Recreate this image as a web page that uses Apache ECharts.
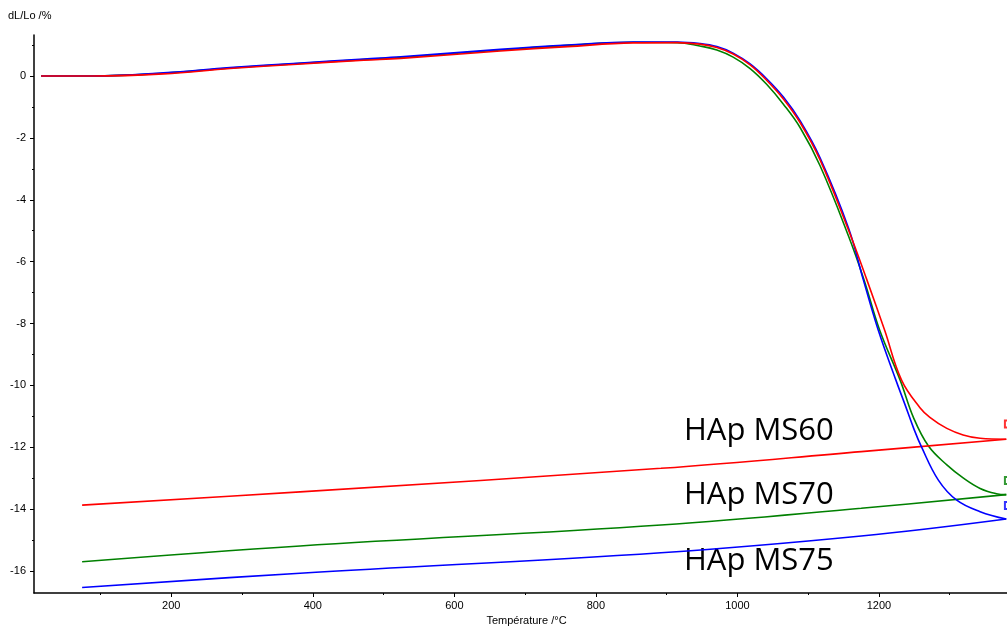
<!DOCTYPE html>
<html>
<head>
<meta charset="utf-8">
<script src="https://cdn.jsdelivr.net/npm/echarts@6/dist/echarts.min.js"></script>
<style>html,body{margin:0;padding:0;background:#fff}#c{width:1007px;height:626px}</style>
</head>
<body>
<div id="c"></div>
<script>
// Temperatures (°C) and dL/Lo (%)
const ms60Heat = [[16,0],[88,0],[189,0.07],[283,0.24],[378,0.38],[472,0.51],[524,0.57],[665,0.81],[760,0.95],[853,1.07],[915,1.08],[947,1.03],[971,0.92],[994,0.71],[1018,0.36],[1041,-0.13],[1065,-0.74],[1089,-1.52],[1117,-2.72],[1157,-4.98],[1183,-6.59],[1208,-8.21],[1232,-9.83],[1258,-10.72],[1272,-11.03],[1296,-11.39],[1319,-11.60],[1343,-11.71],[1380,-11.74]];
const ms70Heat = [[16,0],[88,0],[189,0.09],[283,0.26],[378,0.40],[472,0.53],[524,0.60],[665,0.84],[760,0.99],[853,1.09],[915,1.08],[947,0.97],[971,0.84],[994,0.61],[1018,0.24],[1041,-0.26],[1065,-0.91],[1089,-1.68],[1117,-2.91],[1157,-5.17],[1179,-6.59],[1201,-8.21],[1230,-9.83],[1249,-11.05],[1270,-11.96],[1296,-12.57],[1319,-12.99],[1343,-13.33],[1366,-13.50],[1380,-13.53]];
const ms75Heat = [[16,0],[88,0],[189,0.1],[283,0.27],[378,0.41],[472,0.55],[524,0.62],[665,0.86],[760,1.0],[853,1.10],[915,1.1],[947,1.05],[971,0.95],[994,0.74],[1018,0.39],[1041,-0.08],[1065,-0.68],[1089,-1.46],[1117,-2.65],[1157,-4.91],[1178,-6.59],[1199,-8.21],[1224,-9.83],[1237,-10.63],[1249,-11.38],[1260,-11.98],[1284,-13.06],[1310,-13.71],[1343,-14.08],[1380,-14.32]];
const ms60Cool = [[1380,-11.74],[1175,-12.14],[892,-12.68],[382,-13.44],[74,-13.87]];
const ms70Cool = [[1380,-13.53],[1175,-13.97],[892,-14.51],[382,-15.19],[74,-15.70]];
const ms75Cool = [[1380,-14.32],[1175,-14.87],[892,-15.41],[382,-16.07],[74,-16.53]];
const endMarks = [[1383,-11.25],[1383,-13.07],[1383,-13.88]];
const xLabels = [200,400,600,800,1000,1200];
const xMinor = [100,300,500,700,900,1100,1300];
const yLabels = [0,-2,-4,-6,-8,-10,-12,-14,-16];
const yMinor = [1,-1,-3,-5,-7,-9,-11,-13,-15];
const names = ['HAp MS60','HAp MS70','HAp MS75'];
const colors = ['#ff0000','#008000','#0000ff'];

const chart = echarts.init(document.getElementById('c'));
const font = 'Liberation Sans, Arial, sans-serif';
const lineS = (data, color, z) => ({type:'line', data, showSymbol:false, smooth:0.4, z,
  lineStyle:{color, width:1.6}, itemStyle:{color}, silent:true, animation:false});
chart.setOption({
  animation:false,
  grid:{left:34, right:0, top:35, bottom:33, outerBoundsMode:'none', containLabel:false},
  xAxis:[
    {type:'value', min:6, max:1381, name:'Température /°C', nameLocation:'middle', nameGap:16,
     nameTextStyle:{fontFamily:font, fontSize:11, color:'#000', padding:[0,0,0,12]},
     axisLine:{onZero:false, lineStyle:{color:'#000', width:1.5}},
     axisTick:{customValues:xLabels, length:4, lineStyle:{color:'#000'}},
     axisLabel:{customValues:xLabels, formatter:v=>String(v), fontFamily:font, fontSize:11, color:'#000', margin:7},
     splitLine:{show:false}},
    {type:'value', min:6, max:1381, position:'bottom',
     axisLine:{show:false, onZero:false}, axisTick:{customValues:xMinor, length:2, lineStyle:{color:'#000'}},
     axisLabel:{show:false}, splitLine:{show:false}}
  ],
  yAxis:[
    {type:'value', min:-16.71, max:1.325, name:'dL/Lo /%', nameLocation:'end', nameGap:14,
     nameTextStyle:{fontFamily:font, fontSize:11, color:'#000', align:'left', padding:[0,0,0,-26]},
     axisLine:{show:true, onZero:false, lineStyle:{color:'#000', width:1.5}},
     axisTick:{show:true, customValues:yLabels, length:4, lineStyle:{color:'#000'}},
     axisLabel:{customValues:yLabels, formatter:v=>String(v), fontFamily:font, fontSize:11, color:'#000', margin:8},
     splitLine:{show:false}},
    {type:'value', min:-16.71, max:1.325, position:'left',
     axisLine:{show:false, onZero:false}, axisTick:{show:true, customValues:yMinor, length:2, lineStyle:{color:'#000'}},
     axisLabel:{show:false}, splitLine:{show:false}}
  ],
  series:[
    lineS(ms70Heat, colors[1], 2),
    lineS(ms75Heat, colors[2], 3),
    lineS(ms60Heat, colors[0], 4),
    lineS(ms60Cool, colors[0], 2),
    lineS(ms70Cool, colors[1], 2),
    lineS(ms75Cool, colors[2], 2),
    {type:'scatter', data:endMarks, symbol:'emptyRect', symbolSize:7, clip:false, silent:true,
     itemStyle:{color:function(p){return colors[p.dataIndex];}, borderWidth:1}}
  ],
  graphic:[
    {type:'text', left:684, top:416, style:{text:names[0], fontFamily:'Open Sans', fontSize:31, fill:'#000'}},
    {type:'text', left:684, top:480, style:{text:names[1], fontFamily:'Open Sans', fontSize:31, fill:'#000'}},
    {type:'text', left:684, top:546, style:{text:names[2], fontFamily:'Open Sans', fontSize:31, fill:'#000'}}
  ]
});
</script>
</body>
</html>
